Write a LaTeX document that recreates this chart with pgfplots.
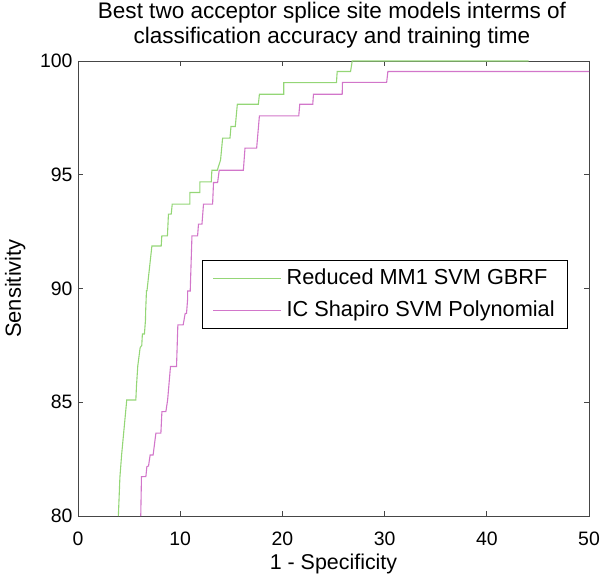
\documentclass[border=0pt]{standalone}
\usepackage{fontspec}
\setmainfont{Liberation Sans}
\usepackage{pgfplots}
\pgfplotsset{compat=1.18}
\usetikzlibrary{calc}
\definecolor{rocgreen}{RGB}{148,214,118}
\definecolor{rocmag}{RGB}{210,118,202}
\definecolor{axgray}{RGB}{70,70,70}

\begin{document}
\begin{tikzpicture}
\begin{axis}[
  scale only axis,
  width=511bp, height=455bp,
  xmin=0, xmax=50, ymin=80, ymax=100,
  xtick={0,10,...,50}, ytick={80,85,...,100},
  tick align=inside,
  major tick length=5bp,
  axis line style={axgray, line width=0.8bp},
  tick style={axgray, line width=0.8bp},
  /pgf/number format/assume math mode=true,
  tick label style={font=\fontsize{19.5}{22}\selectfont, black},
  xticklabel style={yshift=-12bp},
  yticklabel style={xshift=-2bp},
  xlabel={1 - Specificity},
  ylabel={Sensitivity},
  every axis x label/.style={at={(axis description cs:0.5,-0.105)}, anchor=center,
    font=\fontsize{21.5}{24}\selectfont},
  every axis y label/.style={at={(axis description cs:-0.123,0.5)}, anchor=center, rotate=90,
    font=\fontsize{22}{24}\selectfont},
  title={Best two acceptor splice site models interms of\\classification accuracy and training time},
  every axis title/.style={font=\fontsize{22.6}{25}\selectfont, align=center,
    at={(axis description cs:0.497,1.078)}, anchor=center},
  clip=false,
  legend style={at={(axis description cs:0.243,0.563)}, anchor=north west,
    draw=black, line width=0.8bp, font=\fontsize{21.8}{24}\selectfont,
    inner xsep=10bp, inner ysep=4bp,
    nodes={inner sep=3bp, text height=17bp, text depth=5bp},
    row sep=4.5bp, column sep=2bp},
  legend cell align=left,
  legend image code/.code={\draw[#1] (0bp,0bp) -- (68bp,0bp);},
]
\addplot[rocgreen, line width=1.1bp] coordinates {
(3.95,80) (4.10,81.7) (4.27,82.7) (4.77,85.1) (5.66,85.1) (5.72,85.7) (5.85,86.6)
(6.08,87.4) (6.24,87.5) (6.30,88.0) (6.50,88.0) (6.60,88.6) (6.62,89.0) (6.70,89.9)
(6.75,89.9) (7.23,91.87) (8.14,91.87) (8.20,92.31) (8.75,92.31) (8.85,93.27)
(9.12,93.27) (9.22,93.71) (10.95,93.71) (10.95,94.22) (11.93,94.22) (11.93,94.69)
(13.04,94.69) (13.10,95.20) (13.63,95.20) (13.95,95.65) (14.15,96.61) (14.87,96.61)
(14.97,97.12) (15.39,97.12) (15.59,98.10) (17.65,98.10) (17.75,98.54) (20.13,98.54)
(20.13,99.05) (25.29,99.05) (25.36,99.54) (26.67,99.54) (26.83,100) (44.1,100)
};
\addlegendentry{Reduced MM1 SVM GBRF}
\addplot[rocmag, line width=1.1bp] coordinates {
(6.14,80) (6.21,81.73) (6.64,81.73) (6.74,82.17) (6.90,82.2) (7.06,82.68) (7.35,82.68)
(7.62,83.64) (8.11,83.64) (8.21,84.59) (8.60,84.59) (8.77,85.1) (9.05,86.57)
(9.64,86.57) (9.77,88.40) (10.29,88.40) (10.49,88.91) (10.62,88.91) (10.72,89.5)
(10.72,89.89) (10.98,89.89) (11.15,92.31) (11.70,92.31) (11.79,92.83) (12.13,92.83)
(12.28,93.71) (13.17,93.71) (13.26,94.66) (13.66,94.66) (13.82,95.20) (16.18,95.20)
(16.34,96.17) (17.48,96.17) (17.75,97.59) (21.6,97.59) (21.7,98.10) (22.97,98.10)
(23.04,98.54) (25.85,98.54) (25.88,99.06) (30.2,99.06) (30.32,99.54) (50,99.54)
};
\addlegendentry{IC Shapiro SVM Polynomial}
\end{axis}
\pgfresetboundingbox
\path[use as bounding box] ($(current axis.south west)+(-78bp,-60bp)$) rectangle ($(current axis.north east)+(11bp,61bp)$);
\end{tikzpicture}
\end{document}
